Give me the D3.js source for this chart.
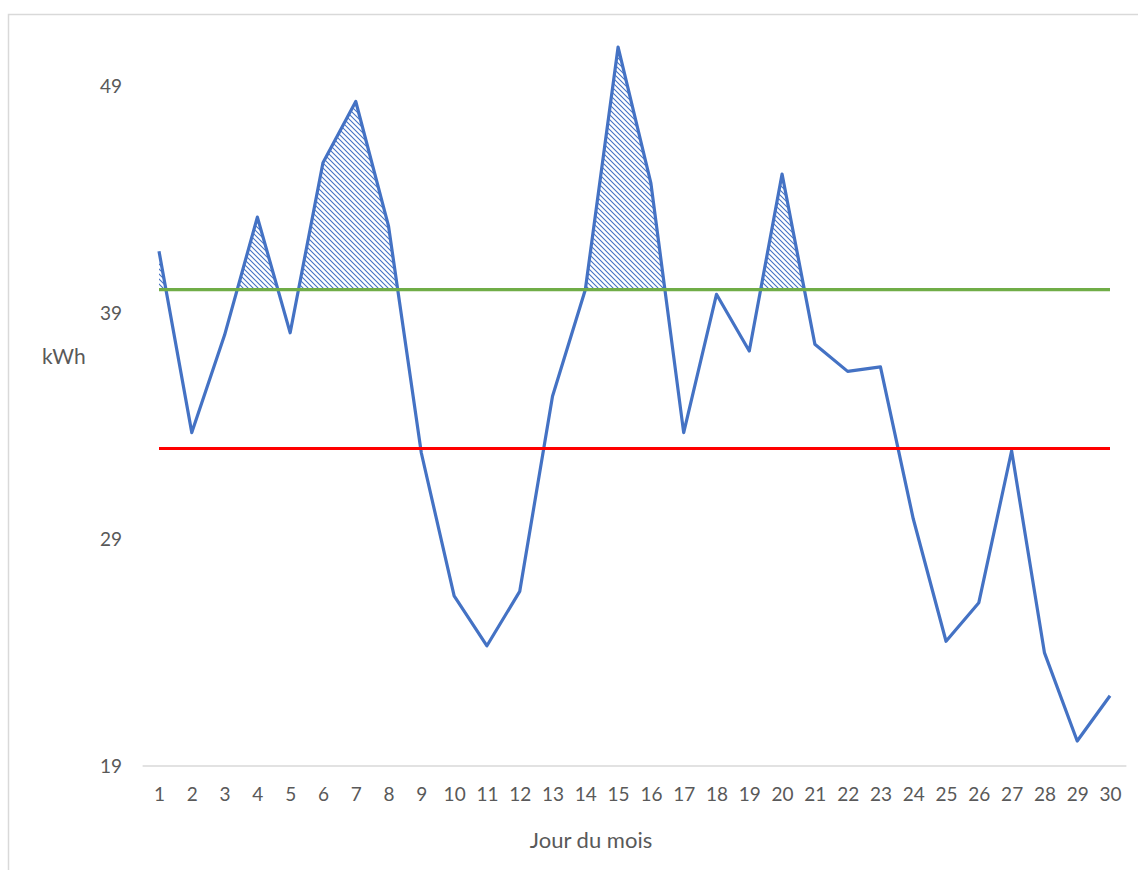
<!DOCTYPE html>
<html>
<head>
<meta charset="utf-8">
<script src="https://cdn.jsdelivr.net/npm/d3@7"></script>
<style>
  html, body { margin: 0; padding: 0; background: #ffffff; }
  svg { display: block; }
  text { font-family: Lato, "Open Sans", sans-serif; fill: #595959; }
</style>
</head>
<body>
<svg id="chart" width="1138" height="870"></svg>
<script>
// ---- data ----
const days = d3.range(1, 31);
const consumption = [41.7, 33.7, 38.0, 43.2, 38.1, 45.6, 48.3, 42.8, 32.8, 26.5,
                     24.3, 26.7, 35.3, 40.0, 50.7, 44.7, 33.7, 39.8, 37.3, 45.1,
                     37.6, 36.4, 36.6, 29.9, 24.5, 26.2, 32.9, 24.0, 20.1, 22.1];
const upperLimit = 40;
const lowerLimit = 33;
const yTicks = [19, 29, 39, 49];
const xTitle = "Jour du mois";
const yTitle = "kWh";

const data = days.map((d, i) => ({ day: d, value: consumption[i] }));

const svg = d3.select("#chart");

// chart frame
svg.append("rect")
  .attr("x", 8.5).attr("y", 14.5)
  .attr("width", 1200).attr("height", 1000)
  .attr("fill", "none").attr("stroke", "#d9d9d9").attr("stroke-width", 1.5);

const plotLeft = 142.6, plotRight = 1126.4;
const x = d3.scalePoint().domain(days).range([plotLeft, plotRight]).padding(0.5);
const y = d3.scaleLinear().domain([19, 51]).range([766, 766 - 32 * 22.68]);

// hatch pattern
const defs = svg.append("defs");
const pat = defs.append("pattern")
  .attr("id", "hatch")
  .attr("patternUnits", "userSpaceOnUse")
  .attr("width", 5).attr("height", 5);
pat.append("path")
  .attr("d", "M-1,-1 L6,6 M-1,4 L1,6 M4,-1 L6,1")
  .attr("stroke", "#4472c4").attr("stroke-width", 1.1).attr("fill", "none");

defs.append("clipPath").attr("id", "aboveClip")
  .append("rect")
  .attr("x", 0).attr("y", 0)
  .attr("width", 1138).attr("height", y(upperLimit));

// hatched area above upper limit
svg.append("path")
  .datum(data)
  .attr("clip-path", "url(#aboveClip)")
  .attr("fill", "url(#hatch)")
  .attr("d", d3.area()
    .x(d => x(d.day))
    .y0(y(upperLimit))
    .y1(d => y(d.value)));

// x axis baseline
svg.append("line")
  .attr("x1", plotLeft).attr("x2", plotRight)
  .attr("y1", y(19)).attr("y2", y(19))
  .attr("stroke", "#d9d9d9").attr("stroke-width", 1.5);

// axes (labels only)
const xAxis = d3.axisBottom(x).tickSize(0).tickPadding(0);
const gx = svg.append("g").attr("transform", `translate(0,${y(19)})`).call(xAxis);
gx.select(".domain").remove();
gx.selectAll("text")
  .attr("dy", null).attr("y", 35)
  .style("font-size", "19px").style("fill", "#595959")
  .attr("font-family", "Lato, sans-serif");

const yAxis = d3.axisLeft(y).tickValues(yTicks).tickSize(0).tickPadding(0);
const gy = svg.append("g").attr("transform", `translate(122,0)`).call(yAxis);
gy.select(".domain").remove();
gy.selectAll("text")
  .attr("dy", "0.35em")
  .style("font-size", "19px").style("fill", "#595959")
  .attr("font-family", "Lato, sans-serif");

// value line
const line = d3.line().x(d => x(d.day)).y(d => y(d.value));
svg.append("path")
  .datum(data)
  .attr("fill", "none")
  .attr("stroke", "#4472c4")
  .attr("stroke-width", 3.2)
  .attr("stroke-linejoin", "round")
  .attr("d", line);

// threshold lines
svg.append("line")
  .attr("x1", x(1)).attr("x2", x(30))
  .attr("y1", y(upperLimit)).attr("y2", y(upperLimit))
  .attr("stroke", "#70ad47").attr("stroke-width", 3.2);
svg.append("line")
  .attr("x1", x(1)).attr("x2", x(30))
  .attr("y1", y(lowerLimit)).attr("y2", y(lowerLimit))
  .attr("stroke", "#ff0000").attr("stroke-width", 3.2);

// titles
svg.append("text")
  .attr("x", 42).attr("y", 357).attr("dy", "0.35em")
  .style("font-size", "21px")
  .text(yTitle);
svg.append("text")
  .attr("x", 591).attr("y", 840).attr("dy", "0.35em")
  .attr("text-anchor", "middle")
  .style("font-size", "22px")
  .text(xTitle);
</script>
</body>
</html>
